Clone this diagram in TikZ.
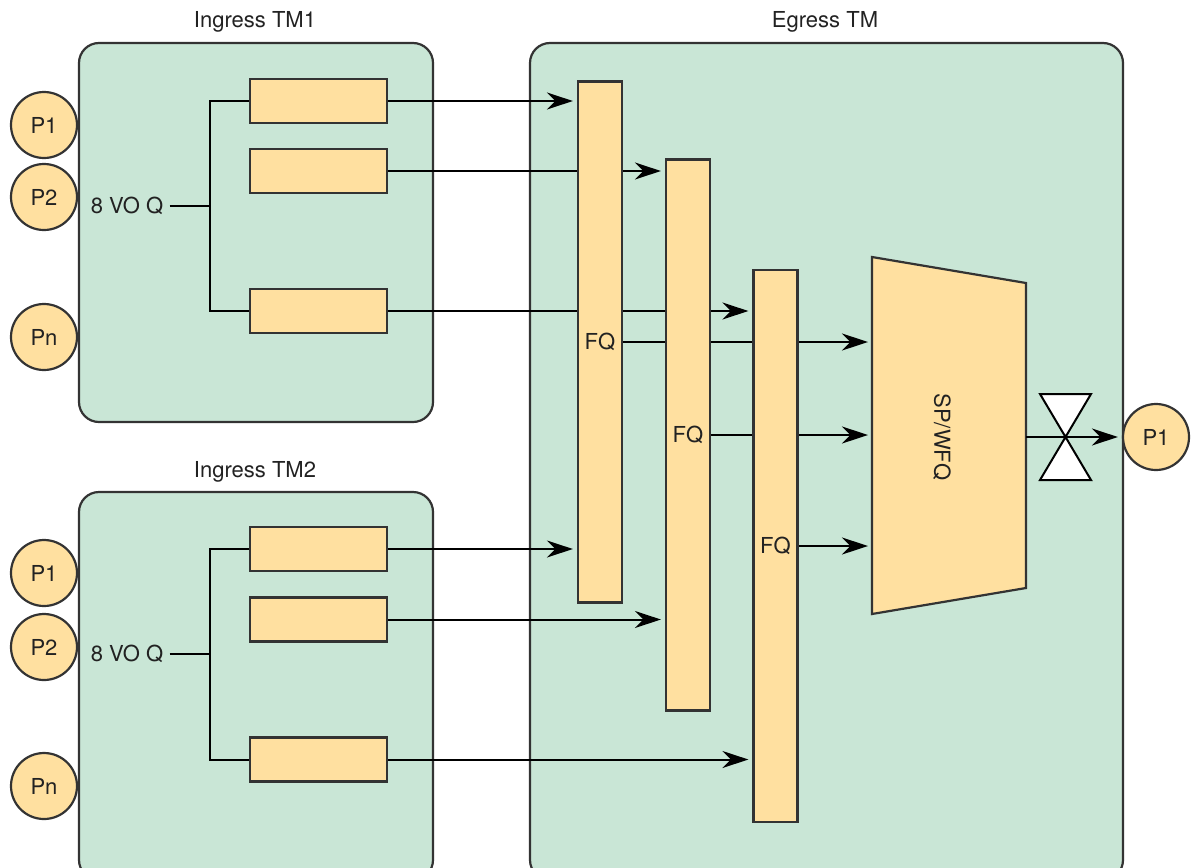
\documentclass[tikz,border=0pt]{standalone}
\usepackage{fontspec}
\setmainfont{TeX Gyre Heros}
\usetikzlibrary{arrows.meta}
\definecolor{boxgreen}{RGB}{201,230,214}
\definecolor{qorange}{RGB}{255,224,160}
\definecolor{edgegray}{RGB}{51,51,51}
\definecolor{txtgray}{RGB}{34,34,34}
\pgfdeclarelayer{bg}
\pgfdeclarelayer{lines}
\pgfsetlayers{bg,lines,main}
\begin{document}
\begin{tikzpicture}[x=0.5pt,y=-0.5pt,
  font=\fontsize{11}{13}\selectfont, text=txtgray,
  tmbox/.style={draw=edgegray, line width=1.1pt, fill=boxgreen, rounded corners=10pt, inner sep=0pt},
  queue/.style={draw=edgegray, line width=1.1pt, fill=qorange, minimum width=68.5pt, minimum height=22pt, inner sep=0pt},
  fqbar/.style={draw=edgegray, line width=1.1pt, fill=qorange, minimum width=22pt, inner sep=0pt},
  port/.style={circle, draw=edgegray, line width=1.1pt, fill=qorange, minimum size=33pt, inner sep=0pt},
  title/.style={inner sep=0pt},
  link/.style={draw=black, line width=1pt},
  arr/.style={link, -{Stealth[length=13pt,width=8.5pt]}, shorten >=2pt},
  bowtie/.style={draw=black, line width=1pt, fill=white, line join=miter},
]
\useasboundingbox (0,0) rectangle (1192,867);
\clip (0,0) rectangle (1192,867);

% ---- containers
\begin{pgfonlayer}{bg}
\node[tmbox, minimum width=177pt, minimum height=189.5pt] (tm1) at (256,232.5) {};
\node[tmbox, minimum width=177pt, minimum height=194pt] (tm2) at (256,686) {};
\node[tmbox, minimum width=296.5pt, minimum height=418.5pt] (egr) at (826.5,461.5) {};
\end{pgfonlayer}

\node[title] (t1) at (255,22) {Ingress TM1};
\node[title] (t2) at (255,472) {Ingress TM2};
\node[title] (t3) at (825,22) {Egress TM};

% ---- ingress ports
\node[port] (a1) at (44,125) {P1};
\node[port] (a2) at (44,197) {P2};
\node[port] (an) at (44,337) {Pn};
\node[port] (b1) at (44,573) {P1};
\node[port] (b2) at (44,647) {P2};
\node[port] (bn) at (44,786) {Pn};

% ---- VOQ labels and queues
\node[title] (vo1) at (127,206) {8 VO Q};
\node[title] (vo2) at (127,654) {8 VO Q};
\coordinate (br1) at (vo1.east -| 210,0);
\coordinate (br2) at (vo2.east -| 210,0);

\node[queue] (q11) at (318.5,101) {};
\node[queue] (q12) at (318.5,171) {};
\node[queue] (q13) at (318.5,311) {};
\node[queue] (q21) at (318.5,549) {};
\node[queue] (q22) at (318.5,619.5) {};
\node[queue] (q23) at (318.5,759.5) {};

% ---- FQ bars
\node[fqbar, minimum height=260.5pt] (fq1) at (600,342) {FQ};
\node[fqbar, minimum height=275.5pt] (fq2) at (688,435) {FQ};
\node[fqbar, minimum height=276pt] (fq3) at (775.5,546) {FQ};

% ---- SP/WFQ scheduler
\coordinate (spl) at (872,437);
\coordinate (spr) at (1026,437);
\draw[draw=edgegray, line width=1.1pt, fill=qorange, line join=miter]
  (872,257) -- (1026,283) -- (1026,588) -- (872,614) -- cycle;
\node[title, rotate=-90] (sp) at (942,437) {SP/WFQ};

% ---- shaper (bow tie)
\coordinate (bt) at (1065.5,437);
\draw[bowtie] (1040,394) -- (1091,394) -- (bt) -- cycle;
\draw[bowtie] (1040,480) -- (1091,480) -- (bt) -- cycle;

% ---- egress port
\node[port] (pout) at (1156,437) {P1};

% ---- connectors
\begin{pgfonlayer}{lines}
\draw[link, shorten <=3pt] (vo1.east) -- (br1);
\draw[link] (q11.west) -| (br1) |- (q13.west);
\draw[link, shorten <=3pt] (vo2.east) -- (br2);
\draw[link] (q21.west) -| (br2) |- (q23.west);

\draw[arr] (q11.east) -- (q11.east -| fq1.west);
\draw[arr] (q12.east) -- (q12.east -| fq2.west);
\draw[arr] (q13.east) -- (q13.east -| fq3.west);
\draw[arr] (q21.east) -- (q21.east -| fq1.west);
\draw[arr] (q22.east) -- (q22.east -| fq2.west);
\draw[arr] (q23.east) -- (q23.east -| fq3.west);

\draw[arr] (fq1.east) -- (fq1.east -| spl);
\draw[arr] (fq2.east) -- (fq2.east -| spl);
\draw[arr] (fq3.east) -- (fq3.east -| spl);
\end{pgfonlayer}
\draw[arr] (spr) -- (pout.west);
\end{tikzpicture}
\end{document}
